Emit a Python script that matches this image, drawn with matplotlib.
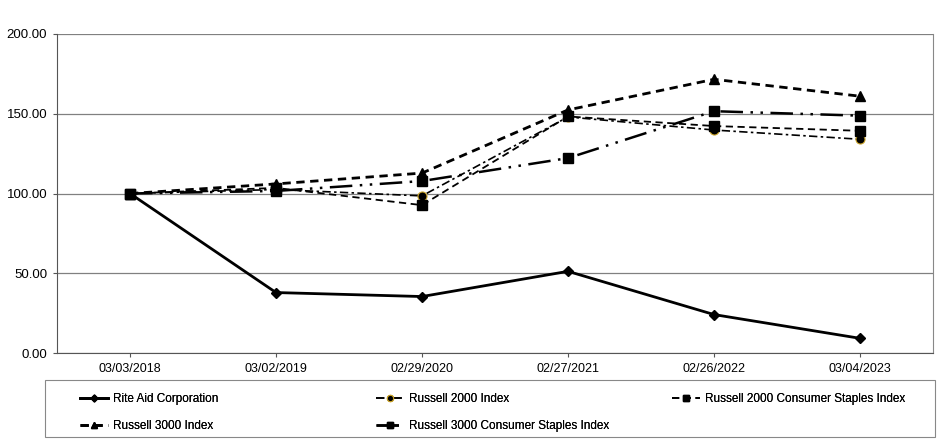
import matplotlib
matplotlib.use("Agg")
import matplotlib.pyplot as plt
from matplotlib import font_manager
from matplotlib.patches import Rectangle

dates = ["03/03/2018", "03/02/2019", "02/29/2020", "02/27/2021", "02/26/2022", "03/04/2023"]
rite_aid = [100.0, 37.9, 35.4, 51.2, 24.1, 9.2]
russell_2000 = [100.0, 102.5, 98.5, 148.0, 139.8, 134.0]
russell_2000_cs = [100.0, 103.5, 92.7, 148.3, 142.3, 139.3]
russell_3000 = [100.0, 106.0, 112.8, 152.4, 171.6, 161.0]
russell_3000_cs = [100.0, 101.6, 107.8, 122.2, 151.6, 148.8]
yticks = [0, 50, 100, 150, 200]

names = {f.name for f in font_manager.fontManager.ttflist}
base_font = "Liberation Sans" if "Liberation Sans" in names else "DejaVu Sans"
narrow_font = "Liberation Sans Narrow" if "Liberation Sans Narrow" in names else base_font
plt.rcParams['font.family'] = [base_font, 'DejaVu Sans']

W, H = 940, 447
fig = plt.figure(figsize=(W/100, H/100), dpi=100)
ax = fig.add_axes([57/W, 1-353/H, (933-57)/W, (353-34)/H])

x = list(range(len(dates)))
h_ra, = ax.plot(x, rite_aid, color="black", lw=2.0, marker="D", ms=5, label="Rite Aid Corporation")
h_r2, = ax.plot(x, russell_2000, color="black", lw=1.2, linestyle=(0, (5, 2, 1.5, 2)),
                marker="o", ms=6.5, markerfacecolor="black", markeredgecolor="#c9a227",
                markeredgewidth=0.8, label="Russell 2000 Index")
h_r2cs, = ax.plot(x, russell_2000_cs, color="black", lw=1.3, linestyle=(0, (4, 2.5)),
                  marker="s", ms=6.5, label="Russell 2000 Consumer Staples Index")
h_r3, = ax.plot(x, russell_3000, color="black", lw=2.0, linestyle=(0, (3, 2)),
                marker="^", ms=7, label="Russell 3000 Index")
h_r3cs, = ax.plot(x, russell_3000_cs, color="black", lw=1.8, linestyle=(0, (9, 3, 1, 3, 1, 3)),
                  marker="s", ms=7, label="Russell 3000 Consumer Staples Index")

ax.set_xlim(-0.5, len(dates) - 0.5)
ax.set_ylim(0, 200)
ax.set_yticks(yticks)
ax.set_yticklabels([f"{v:.2f}" for v in yticks], fontsize=9.5)
ax.set_xticks(x)
ax.set_xticklabels(dates, fontsize=9)
ax.tick_params(axis="both", length=3, color="#555555", width=0.8, pad=4)
ax.yaxis.grid(True, color="#808080", lw=0.9)
ax.set_axisbelow(True)
ax.spines["top"].set_visible(False)
ax.spines["left"].set_color("#555555")
ax.spines["bottom"].set_color("#555555")
ax.spines["right"].set_color("#888888")

# legend frame
fig.patches.append(Rectangle((45/W, 1-437/H), 890/W, 57/H, transform=fig.transFigure,
                             fill=False, edgecolor="#888888", lw=0.8))

columns = [([h_ra, h_r3], 80), ([h_r2, h_r3cs], 376), ([h_r2cs], 672)]
for hs, xpx in columns:
    lg = fig.legend(handles=hs, loc="upper left",
                    bbox_to_anchor=(xpx/W, 1-393/H),
                    frameon=False, borderpad=0, borderaxespad=0,
                    prop={"family": [narrow_font, 'DejaVu Sans'], "size": 8.5},
                    handlelength=2.4, handletextpad=0.4, labelspacing=1.25,
                    markerscale=0.7)
    fig.add_artist(lg)

fig.savefig("out.png", dpi=100)
